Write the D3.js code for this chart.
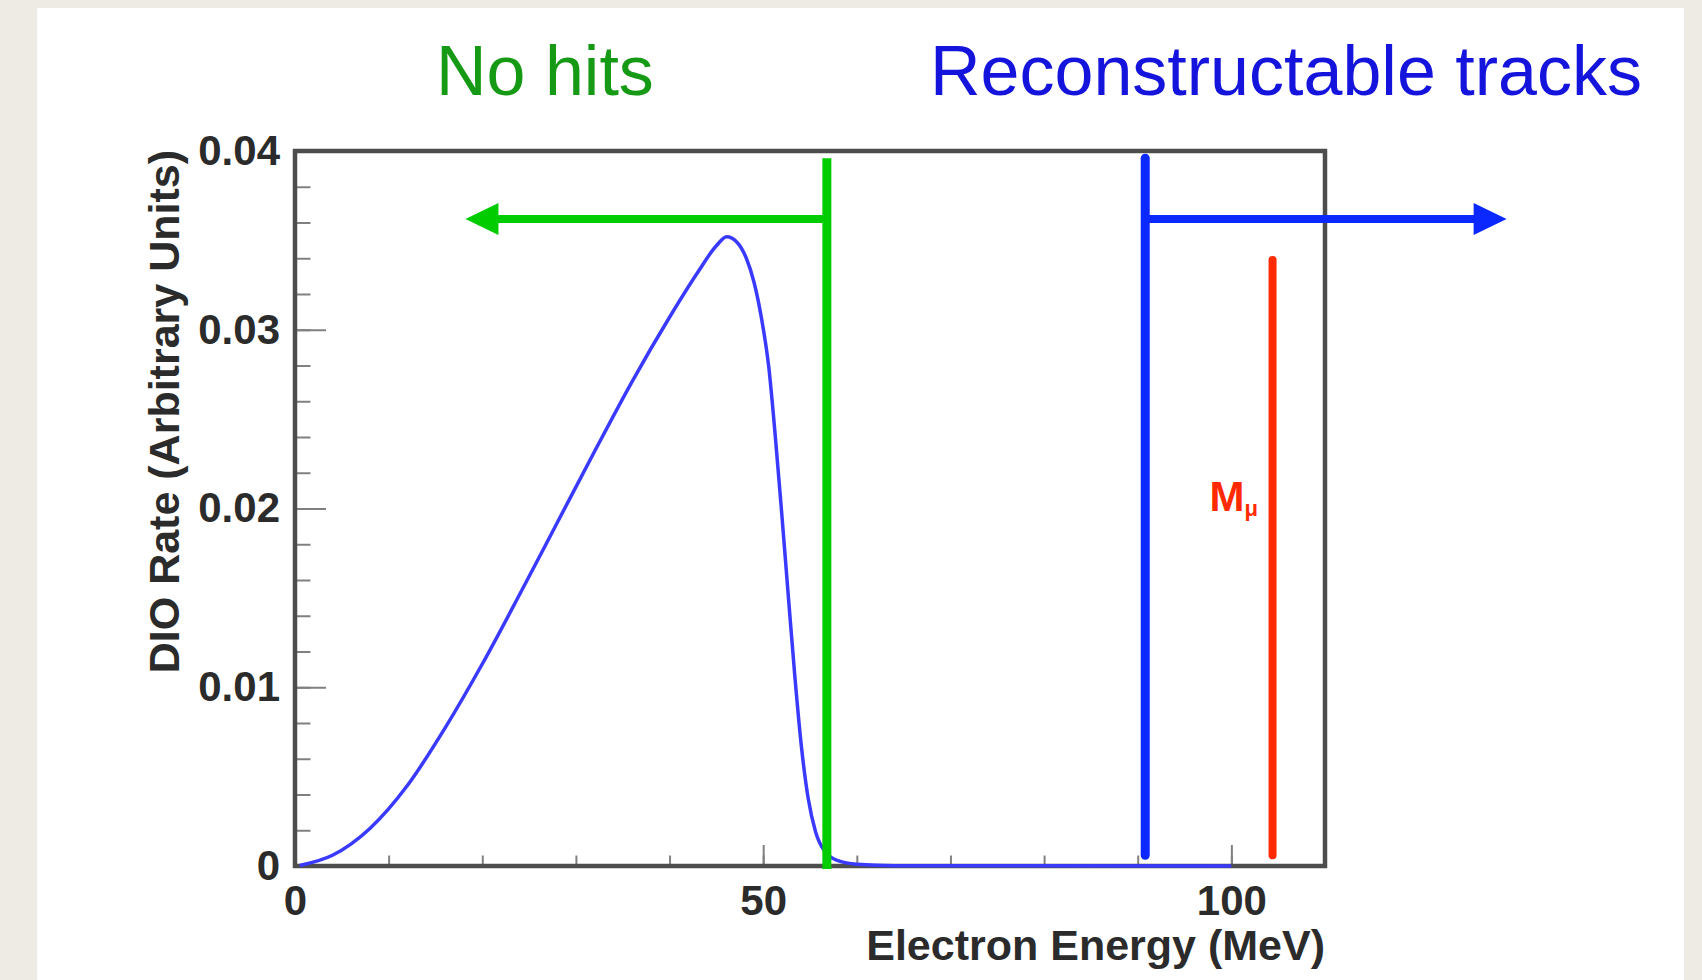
<!DOCTYPE html>
<html>
<head>
<meta charset="utf-8">
<script src="https://cdn.jsdelivr.net/npm/d3@7"></script>
<style>
  html, body { margin: 0; padding: 0; background: #eeebe4; }
  svg { display: block; }
  text { font-family: "Liberation Sans", Arial, Helvetica, sans-serif; }
</style>
</head>
<body>
<div id="chart"></div>
<script>
// DIO spectrum (MeV, arbitrary units)
const energy = [0.5, 4, 8, 12, 16, 20, 24, 28, 32, 36, 40, 43, 45, 46.1, 47.2,
  48.2, 49.0, 49.8, 50.6, 51.3, 52.0, 52.7, 53.4, 54.1, 54.8, 55.6, 56.6, 58, 60, 64, 100];
const rate = [0.00003, 0.0006, 0.0021, 0.0045, 0.0077, 0.0113, 0.0152, 0.0192, 0.0232,
  0.0271, 0.0307, 0.0332, 0.0347, 0.0352, 0.0349, 0.0340, 0.0327, 0.0307, 0.0279,
  0.0240, 0.0196, 0.0150, 0.0105, 0.0066, 0.0038, 0.0019, 0.0008, 0.0003, 0.0001,
  0.00002, 0];

const xTicks = [0, 50, 100];
const xTickLabels = ["0", "50", "100"];
const yTicks = [0, 0.01, 0.02, 0.03, 0.04];
const yTickLabels = ["0", "0.01", "0.02", "0.03", "0.04"];

// annotation positions, in data units
const noHitsCut = 56.8;
const recoCut = 90.8;
const muonMass = 104.4;
const noHitsArrowTip = 18.2;
const recoArrowTip = 129.4;
const arrowLevel = 0.0362;
const cutTop = 0.0396;
const recoBottom = 0.0006;
const muonTop = 0.0339;

const headers = ["No hits", "Reconstructable tracks"];

const width = 1702, height = 980;

const svg = d3.select("#chart")
  .append("svg")
  .attr("width", width)
  .attr("height", height);

// beige slide background with white card
svg.append("rect").attr("width", width).attr("height", height).attr("fill", "#eeebe4");
svg.append("rect")
  .attr("x", 37).attr("y", 8)
  .attr("width", 1647).attr("height", height - 8)
  .attr("fill", "#ffffff");

const x = d3.scaleLinear().domain([0, 110]).range([295, 1325]);
const y = d3.scaleLinear().domain([0, 0.04]).range([866, 151]);

// minor ticks
svg.append("g")
  .attr("transform", `translate(${x(0)},0)`)
  .call(d3.axisLeft(y).tickValues(d3.range(0, 0.0401, 0.002)).tickSizeInner(-15.5).tickSizeOuter(0).tickFormat(""))
  .call(g => g.select(".domain").remove());
svg.append("g")
  .attr("transform", `translate(0,${y(0)})`)
  .call(d3.axisBottom(x).tickValues(d3.range(0, 111, 10)).tickSizeInner(-10.5).tickSizeOuter(0).tickFormat(""))
  .call(g => g.select(".domain").remove());

// major ticks + labels
const yAxis = svg.append("g")
  .attr("transform", `translate(${x(0)},0)`)
  .call(d3.axisLeft(y).tickValues(yTicks).tickSizeInner(-31).tickSizeOuter(0).tickPadding(15)
    .tickFormat((d, i) => yTickLabels[i]));
const xAxis = svg.append("g")
  .attr("transform", `translate(0,${y(0)})`)
  .call(d3.axisBottom(x).tickValues(xTicks).tickSizeInner(-21).tickSizeOuter(0).tickPadding(19)
    .tickFormat((d, i) => xTickLabels[i]));

[yAxis, xAxis].forEach(g => {
  g.select(".domain").remove();
  g.selectAll("text")
    .attr("font-family", "'Liberation Sans', Arial, sans-serif")
    .attr("font-size", 42)
    .attr("font-weight", "bold")
    .attr("fill", "#2b2b2b");
});
svg.selectAll(".tick line").attr("stroke", "#808080").attr("stroke-width", 2);

// frame
svg.append("rect")
  .attr("x", x(0)).attr("y", y(0.04))
  .attr("width", x(110) - x(0)).attr("height", y(0) - y(0.04))
  .attr("fill", "none")
  .attr("stroke", "#4d4d4d")
  .attr("stroke-width", 4.5);

// axis titles
svg.append("text")
  .attr("x", x(110)).attr("y", 960)
  .attr("text-anchor", "end")
  .attr("font-size", 43).attr("font-weight", "bold")
  .attr("fill", "#2b2b2b")
  .text("Electron Energy (MeV)");

svg.append("text")
  .attr("transform", `translate(179,${y(0.04) - 1}) rotate(-90)`)
  .attr("text-anchor", "end")
  .attr("font-size", 43).attr("font-weight", "bold")
  .attr("fill", "#2b2b2b")
  .text("DIO Rate (Arbitrary Units)");

// spectrum
const spectrum = energy.map((e, i) => ({ e: e, r: rate[i] }));
const line = d3.line()
  .x(d => x(d.e))
  .y(d => y(d.r))
  .curve(d3.curveMonotoneX);

svg.append("path")
  .datum(spectrum)
  .attr("d", line)
  .attr("fill", "none")
  .attr("stroke", "#3a3aff")
  .attr("stroke-width", 3.5);

// arrow helper
function arrow(from, tip, color) {
  const dir = tip > from ? -1 : 1;
  const yy = y(arrowLevel);
  const tx = x(tip);
  svg.append("line")
    .attr("x1", x(from)).attr("x2", tx + dir * 30)
    .attr("y1", yy).attr("y2", yy)
    .attr("stroke", color).attr("stroke-width", 8);
  svg.append("path")
    .attr("d", `M${tx},${yy} L${tx + dir * 33},${yy - 16} L${tx + dir * 33},${yy + 16} Z`)
    .attr("fill", color);
}

// no-hits cut
svg.append("line")
  .attr("x1", x(noHitsCut)).attr("x2", x(noHitsCut))
  .attr("y1", y(cutTop)).attr("y2", y(0) + 3)
  .attr("stroke", "#00cc00").attr("stroke-width", 9);
arrow(noHitsCut, noHitsArrowTip, "#00cc00");

// reconstructable cut
svg.append("line")
  .attr("x1", x(recoCut)).attr("x2", x(recoCut))
  .attr("y1", y(cutTop)).attr("y2", y(recoBottom))
  .attr("stroke", "#0a28ff").attr("stroke-width", 9)
  .attr("stroke-linecap", "round");
arrow(recoCut, recoArrowTip, "#0a28ff");

// muon mass
svg.append("line")
  .attr("x1", x(muonMass)).attr("x2", x(muonMass))
  .attr("y1", y(muonTop)).attr("y2", y(recoBottom))
  .attr("stroke", "#ff2a00").attr("stroke-width", 8)
  .attr("stroke-linecap", "round");

const mLabel = svg.append("text")
  .attr("x", x(muonMass) - 63).attr("y", 511)
  .attr("font-size", 42).attr("font-weight", "bold")
  .attr("fill", "#ff2a00");
mLabel.append("tspan").text("M");
mLabel.append("tspan").attr("font-size", 22).attr("dy", 5).text("μ");

// headers
svg.append("text")
  .attr("x", 436).attr("y", 95)
  .attr("font-size", 70)
  .attr("fill", "#169a16")
  .text(headers[0]);
svg.append("text")
  .attr("x", 930).attr("y", 95)
  .attr("font-size", 70)
  .attr("fill", "#1414dc")
  .text(headers[1]);
</script>
</body>
</html>
